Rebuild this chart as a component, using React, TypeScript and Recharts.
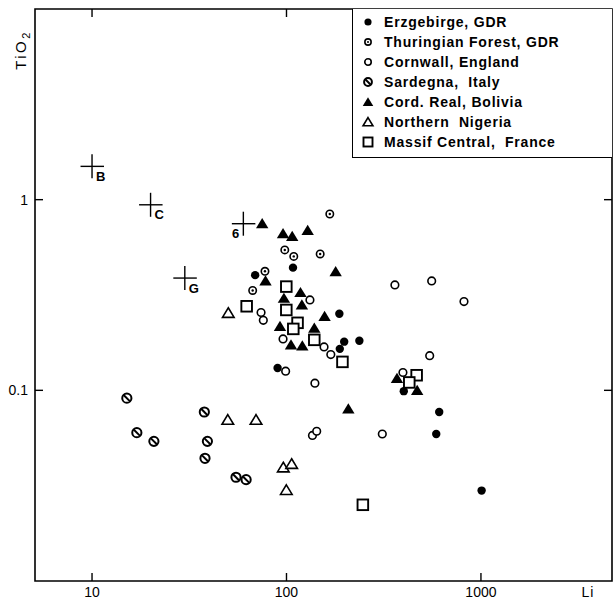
import React from 'react';
import { ScatterChart, Scatter, XAxis, YAxis, ReferenceArea, Legend } from 'recharts';

const X_MIN = 5.09;
const X_MAX = 4720;
const Y_MIN = 0.01;
const Y_MAX = 10;
const X_TICKS = [10, 100, 1000];
const Y_TICKS = [0.1, 1];

const erzgebirge = [
  { li: 69, tio2: 0.402 }, { li: 108, tio2: 0.44 }, { li: 187, tio2: 0.252 }, { li: 198, tio2: 0.18 },
  { li: 188, tio2: 0.165 }, { li: 237, tio2: 0.182 }, { li: 90, tio2: 0.131 }, { li: 401, tio2: 0.099 },
  { li: 610, tio2: 0.077 }, { li: 589, tio2: 0.059 }, { li: 1008, tio2: 0.0298 },
];
const thuringian = [
  { li: 167, tio2: 0.841 }, { li: 98, tio2: 0.545 }, { li: 109, tio2: 0.504 }, { li: 149, tio2: 0.519 },
  { li: 77.5, tio2: 0.421 }, { li: 67, tio2: 0.334 },
];
const cornwall = [
  { li: 361, tio2: 0.357 }, { li: 558, tio2: 0.375 }, { li: 818, tio2: 0.292 }, { li: 132, tio2: 0.298 },
  { li: 74, tio2: 0.256 }, { li: 76, tio2: 0.233 }, { li: 96, tio2: 0.186 }, { li: 156, tio2: 0.169 },
  { li: 169, tio2: 0.154 }, { li: 99, tio2: 0.126 }, { li: 140, tio2: 0.109 }, { li: 545, tio2: 0.152 },
  { li: 397, tio2: 0.124 }, { li: 311, tio2: 0.059 }, { li: 136, tio2: 0.058 }, { li: 143, tio2: 0.061 },
];
const sardegna = [
  { li: 15.1, tio2: 0.091 }, { li: 37.8, tio2: 0.077 }, { li: 17, tio2: 0.06 }, { li: 20.8, tio2: 0.054 },
  { li: 39.2, tio2: 0.054 }, { li: 38.1, tio2: 0.044 }, { li: 55, tio2: 0.035 }, { li: 62, tio2: 0.034 },
];
const bolivia = [
  { li: 75, tio2: 0.748 }, { li: 96, tio2: 0.663 }, { li: 107, tio2: 0.642 }, { li: 128.5, tio2: 0.69 },
  { li: 179, tio2: 0.419 }, { li: 78, tio2: 0.375 }, { li: 118, tio2: 0.326 }, { li: 97, tio2: 0.304 },
  { li: 120, tio2: 0.281 }, { li: 157, tio2: 0.244 }, { li: 92.6, tio2: 0.2165 }, { li: 139, tio2: 0.212 },
  { li: 105.5, tio2: 0.173 }, { li: 120.6, tio2: 0.171 }, { li: 370, tio2: 0.1155 }, { li: 470, tio2: 0.1 },
  { li: 208, tio2: 0.08 },
];
const nigeria = [
  { li: 50.2, tio2: 0.2545 }, { li: 49.9, tio2: 0.07 }, { li: 69.7, tio2: 0.07 }, { li: 96.3, tio2: 0.0394 },
  { li: 106.3, tio2: 0.0411 }, { li: 99.8, tio2: 0.03 },
];
const massif = [
  { li: 99.8, tio2: 0.35 }, { li: 62.4, tio2: 0.276 }, { li: 99.8, tio2: 0.264 }, { li: 114, tio2: 0.226 },
  { li: 108.4, tio2: 0.21 }, { li: 139, tio2: 0.184 }, { li: 194, tio2: 0.141 }, { li: 467, tio2: 0.12 },
  { li: 428, tio2: 0.11 }, { li: 247, tio2: 0.0251 },
];
const references = [
  { li: 10, tio2: 1.495, name: 'B' }, { li: 20, tio2: 0.94, name: 'C' },
  { li: 60, tio2: 0.748, name: '6' }, { li: 30, tio2: 0.388, name: 'G' },
];

const legendNames = [
  'Erzgebirge, GDR',
  'Thuringian Forest, GDR',
  'Cornwall, England',
  'Sardegna,  Italy',
  'Cord. Real, Bolivia',
  'Northern  Nigeria',
  'Massif Central,  France',
];

const PLOT_TOP = 9;
const PLOT_LEFT = 35;
const PLOT_RIGHT = 612;
const FONT = '"Liberation Sans", Arial, Helvetica, sans-serif';
const INK = '#000';

type MarkerKind = 'filledCircle' | 'dotCircle' | 'openCircle' | 'slashCircle' | 'filledTri' | 'openTri' | 'openSquare';

function Marker({ kind, cx, cy, s = 1 }: { kind: MarkerKind; cx: number; cy: number; s?: number }) {
  switch (kind) {
    case 'filledCircle':
      return <circle cx={cx} cy={cy} r={4.2 * s} fill={INK} />;
    case 'dotCircle':
      return (
        <g>
          <circle cx={cx} cy={cy} r={3.7 * s} fill="#fff" stroke={INK} strokeWidth={1.6} />
          <circle cx={cx} cy={cy} r={1.2 * s} fill={INK} />
        </g>
      );
    case 'openCircle':
      return <circle cx={cx} cy={cy} r={3.8 * s} fill="#fff" stroke={INK} strokeWidth={1.6} />;
    case 'slashCircle':
      return (
        <g>
          <circle cx={cx} cy={cy} r={4.6 * s} fill="#fff" stroke={INK} strokeWidth={2} />
          <line x1={cx - 3.2 * s} y1={cy - 3.2 * s} x2={cx + 3.2 * s} y2={cy + 3.2 * s} stroke={INK} strokeWidth={2} />
        </g>
      );
    case 'filledTri':
      return (
        <polygon
          points={`${cx},${cy - 5.6 * s} ${cx + 6.2 * s},${cy + 4.6 * s} ${cx - 6.2 * s},${cy + 4.6 * s}`}
          fill={INK}
        />
      );
    case 'openTri':
      return (
        <polygon
          points={`${cx},${cy - 5.2 * s} ${cx + 5.8 * s},${cy + 4.4 * s} ${cx - 5.8 * s},${cy + 4.4 * s}`}
          fill="#fff"
          stroke={INK}
          strokeWidth={1.6}
          strokeLinejoin="miter"
        />
      );
    case 'openSquare':
      return (
        <rect x={cx - 5.3 * s} y={cy - 5.3 * s} width={10.6 * s} height={10.6 * s} fill="#fff" stroke={INK} strokeWidth={1.9} />
      );
    default:
      return null;
  }
}

const kinds: MarkerKind[] = ['filledCircle', 'dotCircle', 'openCircle', 'slashCircle', 'filledTri', 'openTri', 'openSquare'];

const makeShape = (kind: MarkerKind) => (props: any) => {
  if (props.cx == null || props.cy == null) return <g />;
  return <Marker kind={kind} cx={props.cx} cy={props.cy} />;
};

const LEFT_LABELS = new Set(['6']);

const crossShape = (props: any) => {
  const { cx, cy, payload } = props;
  if (cx == null || cy == null) return <g />;
  const left = LEFT_LABELS.has(payload.name);
  return (
    <g>
      <line x1={cx - 11.5} y1={cy} x2={cx + 12} y2={cy} stroke={INK} strokeWidth={1.4} />
      <line x1={cx} y1={cy - 12} x2={cx} y2={cy + 12} stroke={INK} strokeWidth={1.4} />
      <text
        x={left ? cx - 4 : cx + 4}
        y={cy + 14.5}
        textAnchor={left ? 'end' : 'start'}
        fontSize={13}
        fontWeight="bold"
        fontFamily={FONT}
        fill={INK}
      >
        {payload.name}
      </text>
    </g>
  );
};

const XTick = (props: any) => {
  const { x, y, payload } = props;
  return (
    <g>
      <line x1={x} y1={y} x2={x} y2={y - 8} stroke={INK} strokeWidth={1.4} />
      <line x1={x} y1={PLOT_TOP} x2={x} y2={PLOT_TOP + 8} stroke={INK} strokeWidth={1.4} />
      <text x={x} y={y + 16} textAnchor="middle" fontSize={14} fontFamily={FONT} fill={INK}>
        {String(payload.value)}
      </text>
    </g>
  );
};

const YTick = (props: any) => {
  const { y, payload } = props;
  return (
    <g>
      <line x1={PLOT_LEFT} y1={y} x2={PLOT_LEFT + 8} y2={y} stroke={INK} strokeWidth={1.4} />
      <line x1={PLOT_RIGHT} y1={y} x2={PLOT_RIGHT - 8} y2={y} stroke={INK} strokeWidth={1.4} />
      <text x={PLOT_LEFT - 7} y={y + 5} textAnchor="end" fontSize={14} fontFamily={FONT} fill={INK}>
        {String(payload.value)}
      </text>
    </g>
  );
};

const yTitle = () => (
  <text
    transform="translate(26,50) rotate(-90)"
    textAnchor="middle"
    fontSize={15}
    letterSpacing={2.5}
    fontFamily={FONT}
    fill={INK}
  >
    TiO<tspan dy={4} fontSize={11}>2</tspan>
  </text>
);

const xTitle = () => (
  <text x={588} y={597} textAnchor="middle" fontSize={14} letterSpacing={1} fontFamily={FONT} fill={INK}>
    Li
  </text>
);

const LegendBox = () => (
  <div
    style={{
      boxSizing: 'border-box',
      width: 260,
      height: 149,
      background: '#fff',
      borderLeft: '1.5px solid #000',
      borderBottom: '1.5px solid #000',
      paddingTop: 3,
    }}
  >
    {legendNames.map((name, i) => (
      <div key={name} style={{ height: 20, display: 'flex', alignItems: 'center' }}>
        <svg width={16} height={16} style={{ marginLeft: 7, flex: 'none' }}>
          <Marker kind={kinds[i]} cx={8} cy={8} s={0.85} />
        </svg>
        <span
          style={{
            marginLeft: 8,
            fontFamily: FONT,
            fontWeight: 'bold',
            fontSize: 14,
            letterSpacing: 0.8,
            whiteSpace: 'pre',
            color: INK,
            lineHeight: '16px',
          }}
        >
          {name}
        </span>
      </div>
    ))}
  </div>
);

export default function App() {
  return (
    <div style={{ position: 'absolute', left: 0, top: 0, background: '#fff' }}>
      <ScatterChart width={616} height={604} margin={{ top: PLOT_TOP, right: 616 - PLOT_RIGHT, bottom: 0, left: 0 }}>
        <XAxis
          xAxisId={0}
          type="number"
          dataKey="li"
          scale="log"
          domain={[X_MIN, X_MAX]}
          allowDataOverflow
          ticks={X_TICKS}
          interval={0}
          height={23}
          tickSize={0}
          tickMargin={0}
          tickLine={false}
          axisLine={false}
          tick={<XTick />}
          label={xTitle}
        />
        <YAxis
          yAxisId={0}
          type="number"
          dataKey="tio2"
          scale="log"
          domain={[Y_MIN, Y_MAX]}
          allowDataOverflow
          ticks={Y_TICKS}
          interval={0}
          width={PLOT_LEFT}
          tickSize={0}
          tickMargin={0}
          tickLine={false}
          axisLine={false}
          tick={<YTick />}
          label={yTitle}
        />
        <ReferenceArea
          x1={X_MIN}
          x2={X_MAX}
          y1={Y_MIN}
          y2={Y_MAX}
          fill="none"
          fillOpacity={0}
          stroke={INK}
          strokeWidth={1.6}
          ifOverflow="visible"
        />
        <Scatter name="refs" data={references} shape={crossShape} isAnimationActive={false} legendType="none" />
        <Scatter name={legendNames[3]} data={sardegna} shape={makeShape('slashCircle')} isAnimationActive={false} />
        <Scatter name={legendNames[0]} data={erzgebirge} shape={makeShape('filledCircle')} isAnimationActive={false} />
        <Scatter name={legendNames[4]} data={bolivia} shape={makeShape('filledTri')} isAnimationActive={false} />
        <Scatter name={legendNames[1]} data={thuringian} shape={makeShape('dotCircle')} isAnimationActive={false} />
        <Scatter name={legendNames[2]} data={cornwall} shape={makeShape('openCircle')} isAnimationActive={false} />
        <Scatter name={legendNames[5]} data={nigeria} shape={makeShape('openTri')} isAnimationActive={false} />
        <Scatter name={legendNames[6]} data={massif} shape={makeShape('openSquare')} isAnimationActive={false} />
        <Legend
          layout="vertical"
          align="center"
          verticalAlign="middle"
          wrapperStyle={{ position: 'absolute', left: 352, top: PLOT_TOP, width: 260, height: 149, margin: 0, padding: 0 }}
          content={() => <LegendBox />}
        />
      </ScatterChart>
    </div>
  );
}
